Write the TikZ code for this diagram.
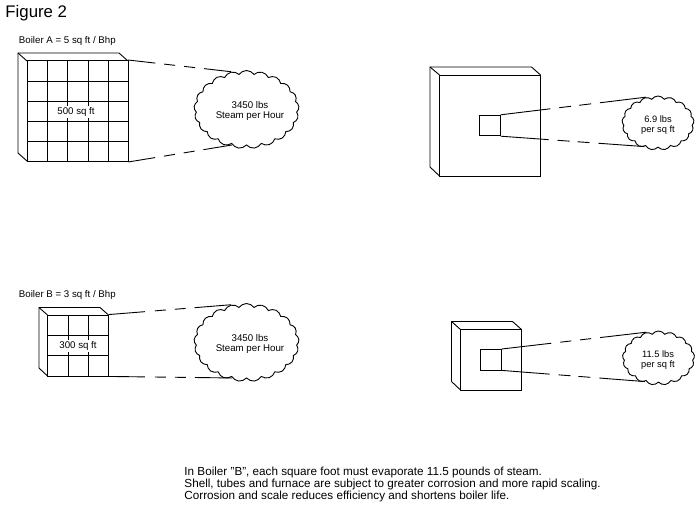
\documentclass[tikz,border=0pt]{standalone}
\usepackage{fontspec}
\setmainfont{Liberation Sans}
\usetikzlibrary{shapes.symbols}

\begin{document}
\begin{tikzpicture}[x=1pt,y=-1pt,line width=0.9pt,
 every node/.style={font=\fontsize{9.7}{10.5}\selectfont,align=center,inner sep=1pt},
 steam/.style={draw,shape=cloud,cloud ignores aspect,cloud puffs=21,cloud puff arc=110,inner sep=0pt},
 face/.style={draw,fill=white,minimum width=#1,minimum height=#1,inner sep=0pt},
 area/.style={fill=white,inner sep=1.5pt},
 small/.style={font=\fontsize{9.3}{10.5}\selectfont}]
\useasboundingbox (0,0) rectangle (700,505);

\node[anchor=west,font=\fontsize{16.8}{20}\selectfont] (title) at (4,13) {Figure 2};
\node[anchor=west] (labela) at (17.5,41) {Boiler A = 5 sq ft / Bhp};
\node[anchor=west] (labelb) at (17.5,295) {Boiler B = 3 sq ft / Bhp};

% boiler A, whole surface
\draw (18,153)--(18,53)--(119,53)--(128,61);
\draw (18,53)--(27,61) (18,153)--(27,161);
\node[face=101] (facea) at (77.5,111) {};
\foreach \x in {47,67.5,88,108} \draw (\x,61)--(\x,161);
\foreach \y in {81,101,121,141} \draw (27,\y)--(128,\y);
\node[area] (areaa) at (76,112) {500 sq ft};
\node[steam,minimum width=105,minimum height=78] (clouda) at (246.5,109.5) {};
\node (steama) at (250,111) {3450 lbs\\Steam per Hour};
\draw[dash pattern=on 27 off 9 on 11 off 9 on 11 off 9 on 60] (facea.north east)--(clouda.112);
\draw[dash pattern=on 27 off 9 on 11 off 9 on 11 off 9 on 60] (facea.south east)--(clouda.248);

% boiler A, one square foot
\draw (430,167)--(430,67)--(531.5,67)--(540.5,75);
\draw (430,67)--(439.5,75) (430,167)--(439.5,176);
\node[face=101] (facec) at (490,125.5) {};
\node[draw,minimum width=20.5,minimum height=20.5,inner sep=0pt] (unita) at (490,125.5) {};
\node[steam,cloud puffs=17,minimum width=72,minimum height=54] (cloudc) at (658,123) {};
\node[small] (perfta) at (658,125) {6.9 lbs\\per sq ft};
\draw[dash pattern=on 50 off 9 on 12 off 8 on 12 off 9 on 60] (unita.north east)--(cloudc.115);
\draw[dash pattern=on 48 off 9 on 12 off 8 on 12 off 9 on 60] (unita.south east)--(cloudc.240);

% boiler B, whole surface
\draw (39,368)--(39,307.5)--(100,307.5)--(108.5,315);
\draw (39,307.5)--(47.5,315) (39,368)--(47.5,376);
\node[face=61] (faceb) at (78,345.5) {};
\foreach \x in {68.3,88.3} \draw (\x,315)--(\x,376);
\foreach \y in {335.3,355.7} \draw (47.5,\y)--(108.5,\y);
\node[area] (areab) at (78,346) {300 sq ft};
\node[steam,minimum width=105,minimum height=78] (cloudb) at (246.5,342.5) {};
\node (steamb) at (250,344) {3450 lbs\\Steam per Hour};
\draw[dash pattern=on 36 off 10 on 11 off 9 on 11 off 9 on 60] (faceb.north east)--(cloudb.112);
\draw[dash pattern=on 36 off 10 on 11 off 9 on 11 off 9 on 60] (faceb.south east)--(cloudb.248);

% boiler B, one square foot
\draw (451.5,381.5)--(451.5,321.5)--(512.5,321.5)--(521.5,329.5);
\draw (451.5,321.5)--(460.5,329.5) (451.5,381.5)--(460.5,390);
\node[face=61] (faced) at (491,359.7) {};
\node[draw,minimum width=20.5,minimum height=20.5,inner sep=0pt] (unitb) at (491,359.7) {};
\node[steam,cloud puffs=17,minimum width=72,minimum height=54] (cloudd) at (658.5,358) {};
\node[small] (perftb) at (658,360) {11.5 lbs\\per sq ft};
\draw[dash pattern=on 50 off 9 on 11 off 9 on 11 off 9 on 60] (unitb.north east)--(cloudd.115);
\draw[dash pattern=on 48 off 9 on 12 off 8 on 12 off 9 on 60] (unitb.south east)--(cloudd.240);

\node[anchor=north west,align=left,font=\fontsize{11.7}{12}\selectfont] (note) at (183,465.5) {In Boiler "B", each square foot must evaporate 11.5 pounds of steam.\\
Shell, tubes and furnace are subject to greater corrosion and more rapid scaling.\\
Corrosion and scale reduces efficiency and shortens boiler life.};
\end{tikzpicture}
\end{document}
